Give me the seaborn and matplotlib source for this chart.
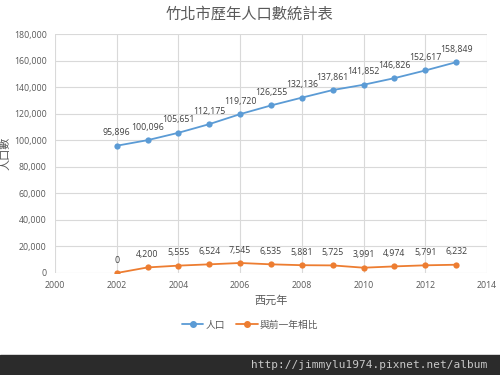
import pandas as pd
import seaborn as sns
import matplotlib.pyplot as plt
from matplotlib.ticker import FuncFormatter

years = [2002, 2003, 2004, 2005, 2006, 2007, 2008, 2009, 2010, 2011, 2012, 2013]
population = [95896, 100096, 105651, 112175, 119720, 126255,
              132136, 137861, 141852, 146826, 152617, 158849]
diff_prev = [0, 4200, 5555, 6524, 7545, 6535, 5881, 5725, 3991, 4974, 5791, 6232]
series_names = ["人口", "與前一年相比"]

df = pd.DataFrame({
    "year": years * 2,
    "value": population + diff_prev,
    "series": [series_names[0]] * len(years) + [series_names[1]] * len(years),
})

sns.set_style("white")
plt.rcParams["font.family"] = ["Open Sans", "Noto Sans CJK TC", "DejaVu Sans"]

fig = plt.figure(figsize=(5, 3.75), dpi=100)
ax = fig.add_axes([0.11, 0.272, 0.864, 0.637])

palette = {series_names[0]: "#5B9BD5", series_names[1]: "#ED7D31"}
sns.lineplot(data=df, x="year", y="value", hue="series", palette=palette,
             marker="o", markersize=4.5, markeredgewidth=0, linewidth=1.3,
             ax=ax, legend=False)

for s, vals in zip(series_names, [population, diff_prev]):
    for x, y in zip(years, vals):
        ax.annotate(f"{y:,}", (x, y), xytext=(0, 6), textcoords="offset points",
                    ha="center", va="bottom", fontsize=6.3, color="#404040")

ax.set_xlim(2000, 2014)
ax.set_ylim(0, 180000)
ax.set_xticks(range(2000, 2015, 2))
ax.set_yticks(range(0, 180001, 20000))
ax.yaxis.set_major_formatter(FuncFormatter(lambda v, p: f"{int(v):,}"))
ax.tick_params(length=0, labelsize=6.3, colors="#595959", pad=6)
ax.grid(True, color="#D9D9D9", linewidth=0.8)
for sp in ax.spines.values():
    sp.set_visible(False)

ax.set_xlabel("西元年", fontsize=8, color="#595959", labelpad=4)
ax.set_ylabel("人口數", fontsize=8, color="#595959", labelpad=2)
fig.text(0.5, 0.96, "竹北市歷年人口數統計表", ha="center", va="center",
         fontsize=11, color="#595959")

handles = [plt.Line2D([], [], color=palette[s], marker="o", markersize=4,
                      linewidth=1.3) for s in series_names]
fig.legend(handles, series_names, loc="center", bbox_to_anchor=(0.5, 0.133),
           ncol=2, frameon=False, fontsize=7, labelcolor="#595959",
           handlelength=2.2, handletextpad=0.2, columnspacing=1.2)

fig.patches.append(plt.Rectangle((0, 0), 1, 20 / 375, transform=fig.transFigure,
                                 color="#2B2B2B", zorder=0))
fig.text(0.975, 10 / 375, "http://jimmylu1974.pixnet.net/album", ha="right",
         va="center", fontsize=8, color="#C8C8C8", family="DejaVu Sans Mono")

plt.savefig("out.png", dpi=100)
